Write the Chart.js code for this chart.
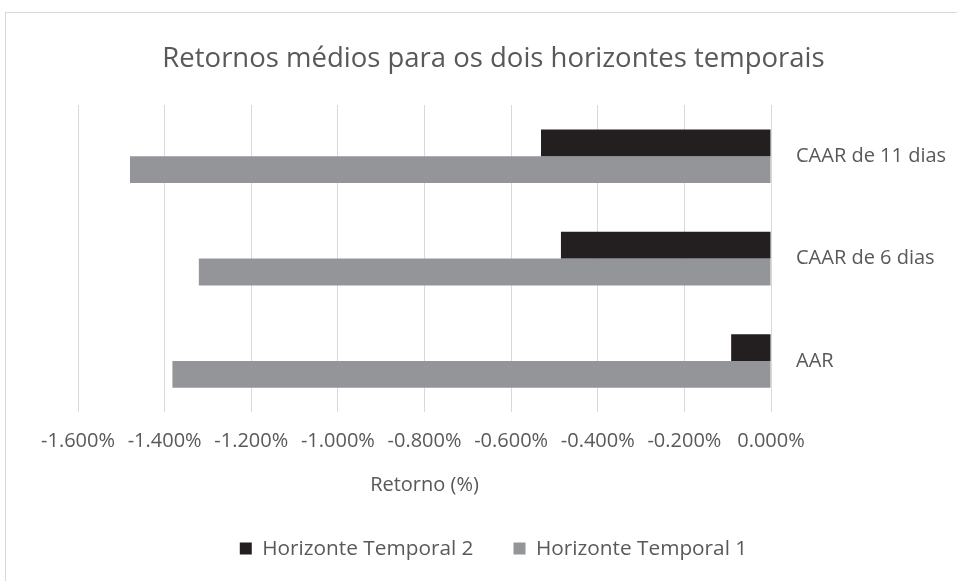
<!DOCTYPE html>
<html>
<head>
<meta charset="utf-8">
<script src="https://cdn.jsdelivr.net/npm/chart.js@4/dist/chart.umd.min.js"></script>
<style>
    html, body { margin: 0; padding: 0; background: #fff; }
    #frame {
        position: absolute; left: 5px; top: 12px;
        width: 980px; height: 600px;
        border: 1px solid #d9d9d9;
    }
    #wrap { position: absolute; left: 0; top: 0; width: 957px; height: 581px; }
</style>
</head>
<body>
<div id="frame"></div>
<div id="wrap"><canvas id="chart"></canvas></div>
<script>
const categories = ['CAAR de 11 dias', 'CAAR de 6 dias', 'AAR'];
const horizonte2 = [-0.531, -0.485, -0.092];
const horizonte1 = [-1.480, -1.321, -1.382];
const xTicks     = [-1.6, -1.4, -1.2, -1.0, -0.8, -0.6, -0.4, -0.2, 0];

const TEXT = '#595959';
const FONT = "'Open Sans', sans-serif";

new Chart(document.getElementById('chart').getContext('2d'), {
    type: 'bar',
    data: {
        labels: categories,
        datasets: [
            {
                label:           'Horizonte Temporal 2',
                data:            horizonte2,
                backgroundColor: '#231f20',
            },
            {
                label:           'Horizonte Temporal 1',
                data:            horizonte1,
                backgroundColor: '#939598',
            },
        ],
    },
    options: {
        indexAxis: 'y',
        responsive: true,
        maintainAspectRatio: false,
        animation: false,
        datasets: { bar: { categoryPercentage: 0.523, barPercentage: 1 } },
        layout: { padding: { left: 30, right: 0, top: 0, bottom: 12 } },
        scales: {
            x: {
                min: -1.6,
                max: 0,
                afterBuildTicks: s => { s.ticks = xTicks.map(v => ({ value: v })); },
                ticks: {
                    autoSkip:    false,
                    maxRotation: 0,
                    padding:     17,
                    color:       TEXT,
                    font:        { family: FONT, size: 20 },
                    callback:    v => v.toFixed(3) + '%',
                },
                grid:   { color: '#d9d9d9', lineWidth: 1, drawTicks: false },
                border: { display: false },
                title: {
                    display: true,
                    text:    'Retorno (%)',
                    color:   TEXT,
                    font:    { family: FONT, size: 20 },
                    padding: { top: 3, bottom: 1 },
                },
            },
            y: {
                position: 'right',
                afterFit: s => { s.width = 186; },
                ticks: {
                    padding: 17,
                    color:   TEXT,
                    font:    { family: FONT, size: 20 },
                },
                grid:   { display: false },
                border: { display: false },
            },
            // empty left gutter so title and legend centre like the original
            yLeft: {
                type:     'category',
                position: 'left',
                afterFit: s => { s.width = 48; },
                ticks:    { display: false },
                grid:     { display: false },
                border:   { display: false },
            },
        },
        plugins: {
            title: {
                display: true,
                text:    'Retornos médios para os dois horizontes temporais',
                color:   TEXT,
                font:    { family: FONT, size: 27.5, weight: 'normal' },
                padding: { top: 43, bottom: 29 },
            },
            legend: {
                position: 'bottom',
                labels: {
                    boxWidth:  12,
                    boxHeight: 12,
                    padding:   40,
                    color:     TEXT,
                    font:      { family: FONT, size: 20.8 },
                },
            },
            tooltip: { enabled: false },
        },
    },
});
</script>
</body>
</html>
